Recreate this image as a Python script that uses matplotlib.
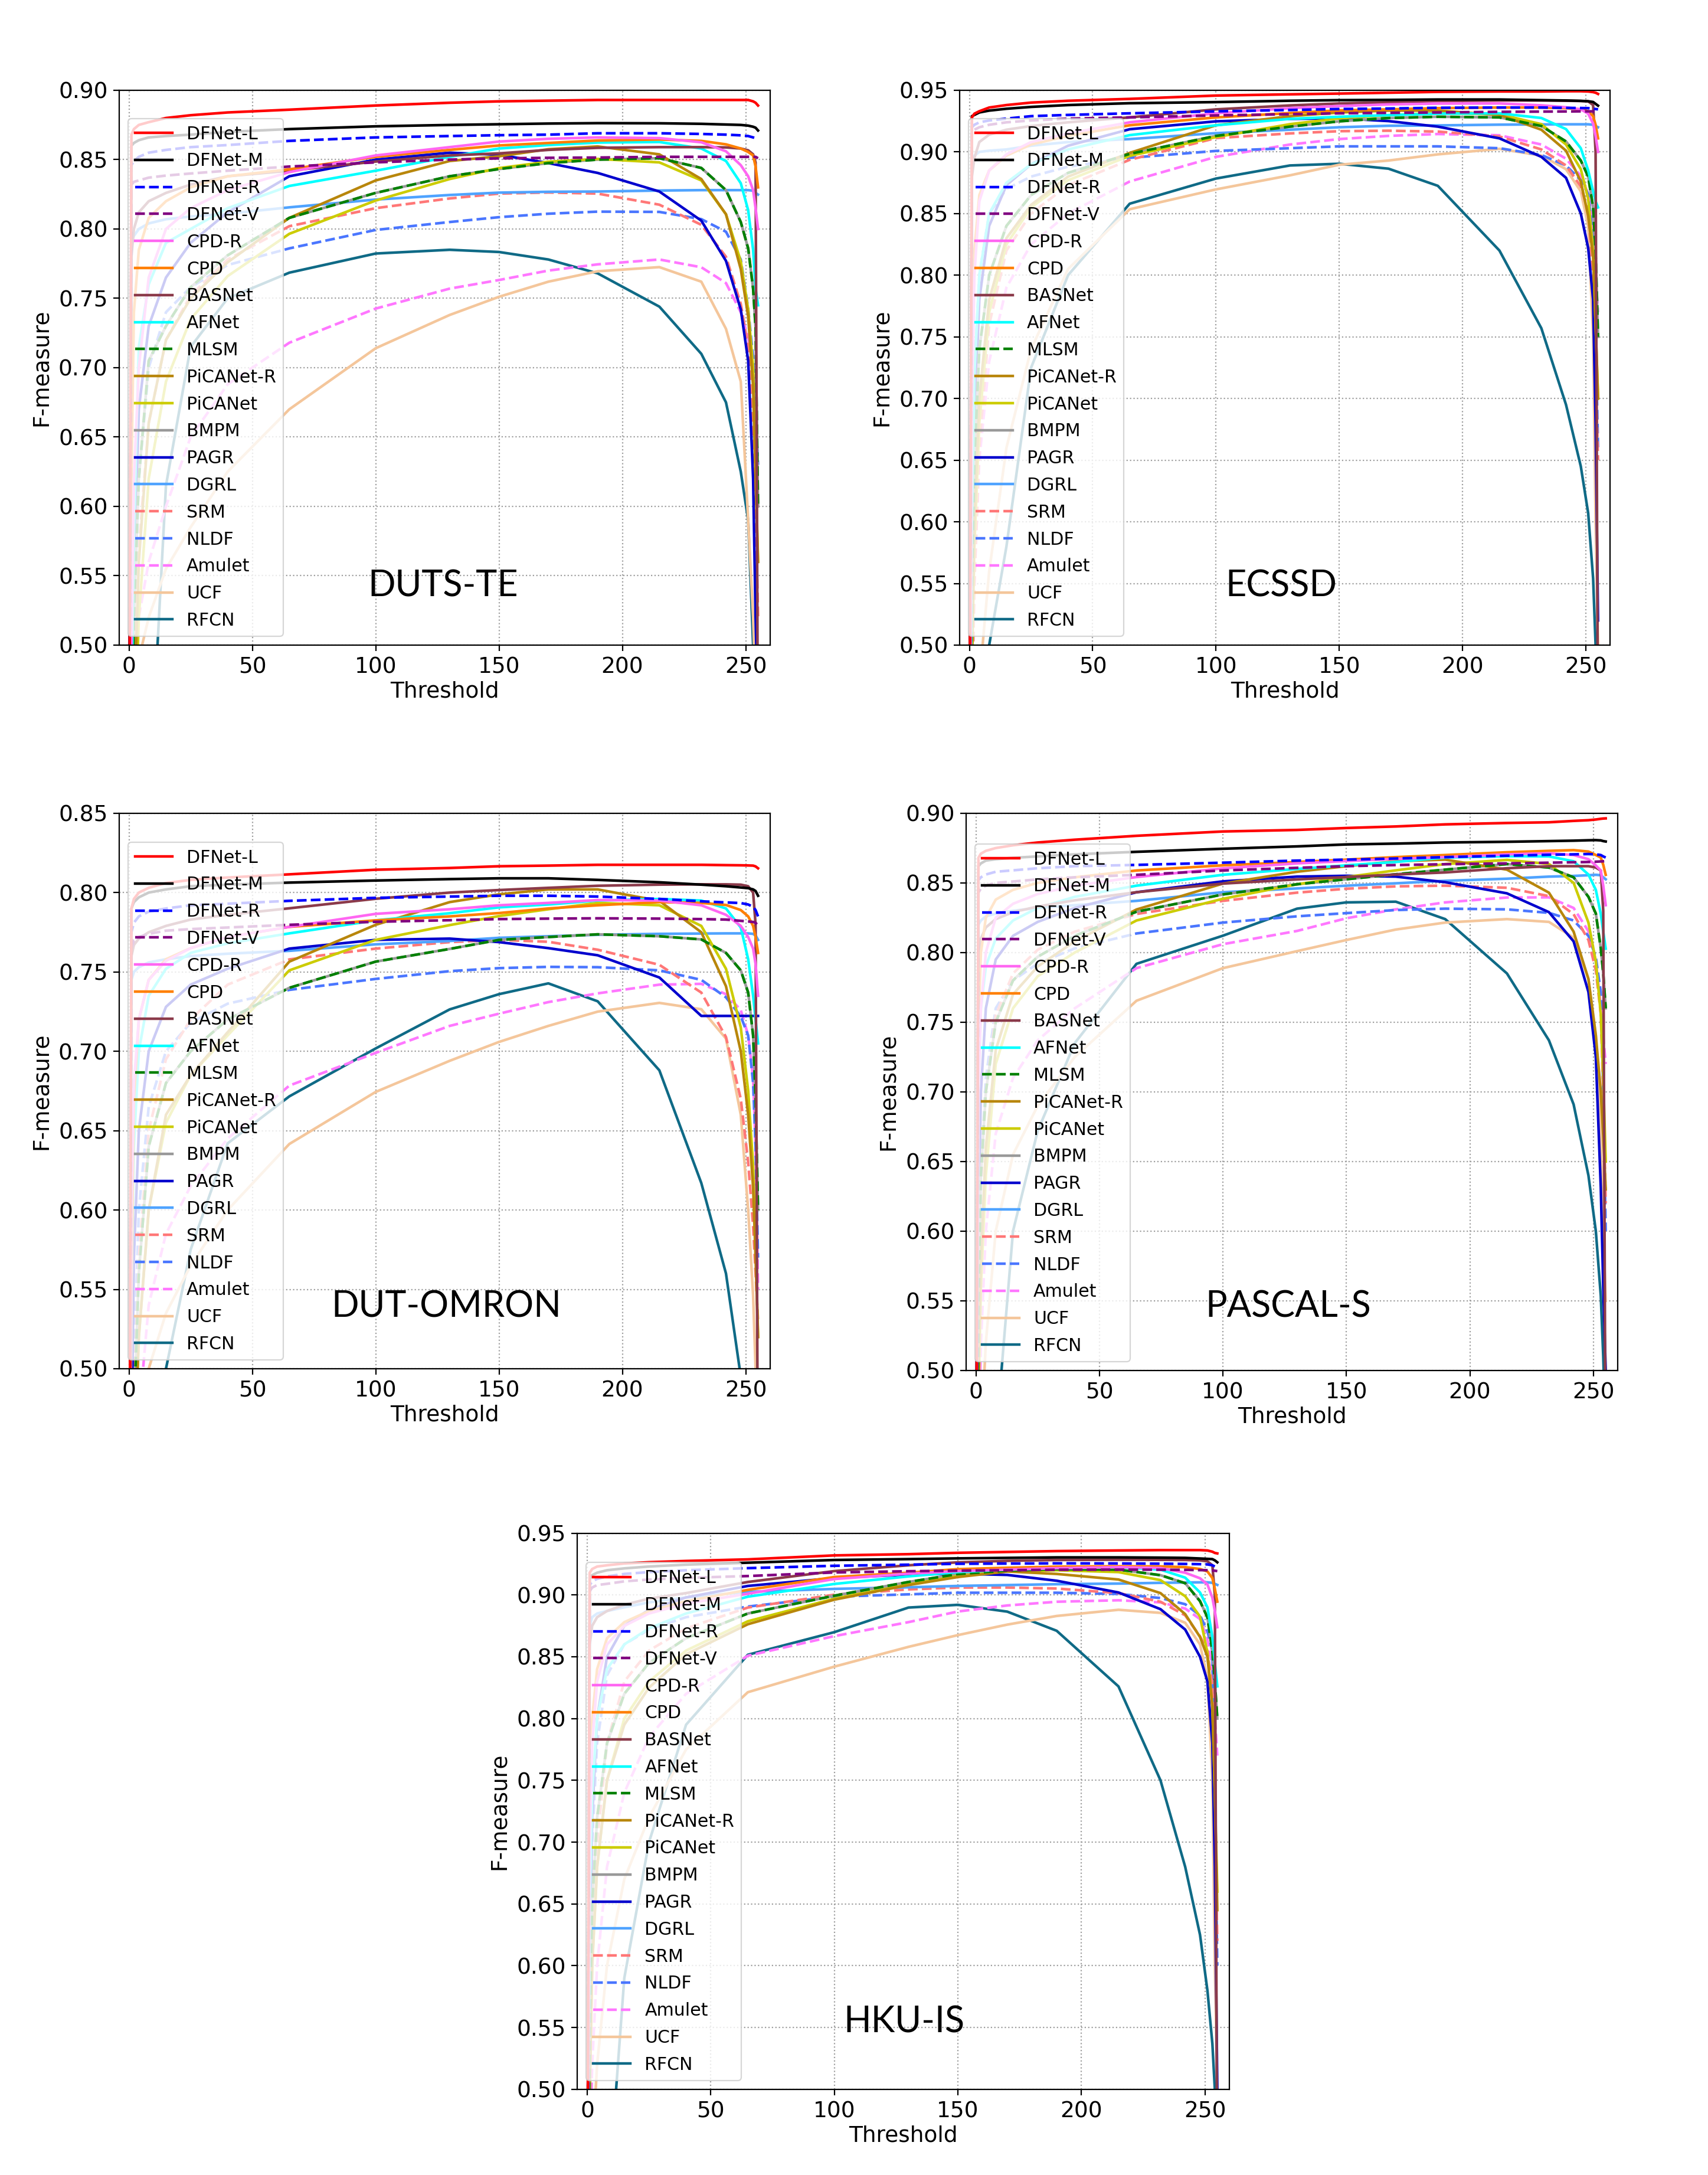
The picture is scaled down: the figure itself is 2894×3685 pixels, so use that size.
import matplotlib
matplotlib.use("Agg")
import matplotlib.pyplot as plt
from matplotlib.ticker import FormatStrFormatter

# ---------------- data ----------------
THRESHOLDS = [0, 1, 2, 4, 8, 15, 25, 40, 65, 100, 130, 150, 170, 190, 215, 232, 242, 248, 251, 253, 254, 255]

METHODS = ["DFNet-L", "DFNet-M", "DFNet-R", "DFNet-V", "CPD-R", "CPD", "BASNet", "AFNet", "MLSM",
           "PiCANet-R", "PiCANet", "BMPM", "PAGR", "DGRL", "SRM", "NLDF", "Amulet", "UCF", "RFCN"]

DATASETS = ["DUTS-TE", "ECSSD", "DUT-OMRON", "PASCAL-S", "HKU-IS"]

duts_te = [
    [0.35, 0.868, 0.872, 0.875, 0.877, 0.880, 0.882, 0.884, 0.886, 0.889, 0.891, 0.892, 0.8925, 0.893, 0.893, 0.893, 0.893, 0.893, 0.893, 0.892, 0.891, 0.889],
    [0.35, 0.860, 0.862, 0.864, 0.866, 0.867, 0.868, 0.870, 0.872, 0.874, 0.875, 0.8755, 0.876, 0.8763, 0.8762, 0.8758, 0.8753, 0.875, 0.8745, 0.8737, 0.873, 0.871],
    [0.35, 0.846, 0.849, 0.852, 0.855, 0.857, 0.859, 0.8605, 0.8635, 0.866, 0.867, 0.8676, 0.868, 0.869, 0.869, 0.8685, 0.868, 0.8675, 0.867, 0.866, 0.8655, 0.865],
    [0.35, 0.832, 0.834, 0.835, 0.837, 0.8385, 0.840, 0.842, 0.845, 0.848, 0.850, 0.8509, 0.8513, 0.8515, 0.852, 0.852, 0.852, 0.852, 0.852, 0.852, 0.852, 0.851],
    [0.30, 0.50, 0.62, 0.70, 0.765, 0.80, 0.815, 0.828, 0.841, 0.853, 0.859, 0.863, 0.865, 0.866, 0.8655, 0.8625, 0.856, 0.846, 0.838, 0.828, 0.815, 0.80],
    [0.30, 0.62, 0.74, 0.785, 0.808, 0.82, 0.83, 0.838, 0.843, 0.852, 0.857, 0.8602, 0.862, 0.8638, 0.8645, 0.8635, 0.861, 0.858, 0.8555, 0.853, 0.845, 0.830],
    [0.30, 0.78, 0.80, 0.812, 0.82, 0.826, 0.832, 0.838, 0.842, 0.8486, 0.853, 0.8545, 0.857, 0.8585, 0.859, 0.859, 0.8588, 0.858, 0.8567, 0.8538, 0.848, 0.40],
    [0.30, 0.45, 0.58, 0.715, 0.76, 0.79, 0.80, 0.815, 0.831, 0.842, 0.852, 0.858, 0.8605, 0.8623, 0.8627, 0.858, 0.849, 0.833, 0.8135, 0.785, 0.757, 0.745],
    [0.30, 0.42, 0.52, 0.62, 0.705, 0.73, 0.758, 0.781, 0.808, 0.826, 0.838, 0.8432, 0.8475, 0.850, 0.851, 0.844, 0.828, 0.805, 0.786, 0.757, 0.7285, 0.60],
    [0.30, 0.38, 0.45, 0.56, 0.66, 0.72, 0.75, 0.776, 0.808, 0.835, 0.849, 0.8524, 0.8575, 0.8595, 0.8538, 0.836, 0.8106, 0.771, 0.737, 0.686, 0.62, 0.56],
    [0.30, 0.36, 0.42, 0.52, 0.62, 0.69, 0.735, 0.766, 0.7965, 0.8205, 0.836, 0.8439, 0.8485, 0.8505, 0.848, 0.835, 0.8106, 0.7766, 0.742, 0.70, 0.63, 0.56],
    [0.30, 0.42, 0.52, 0.62, 0.705, 0.73, 0.758, 0.781, 0.808, 0.826, 0.838, 0.8432, 0.8475, 0.850, 0.851, 0.844, 0.828, 0.805, 0.786, 0.757, 0.7285, 0.60],
    [0.30, 0.45, 0.55, 0.67, 0.73, 0.765, 0.79, 0.812, 0.838, 0.850, 0.855, 0.8535, 0.8475, 0.8404, 0.827, 0.806, 0.777, 0.742, 0.705, 0.62, 0.52, 0.45],
    [0.30, 0.79, 0.795, 0.80, 0.804, 0.807, 0.809, 0.811, 0.8156, 0.8212, 0.8245, 0.8262, 0.8268, 0.827, 0.8277, 0.828, 0.828, 0.828, 0.828, 0.8276, 0.826, 0.8248],
    [0.30, 0.40, 0.48, 0.57, 0.66, 0.72, 0.752, 0.778, 0.802, 0.815, 0.822, 0.8255, 0.8263, 0.8255, 0.8175, 0.803, 0.78, 0.746, 0.715, 0.66, 0.60, 0.52],
    [0.30, 0.42, 0.52, 0.62, 0.70, 0.74, 0.758, 0.774, 0.786, 0.7993, 0.805, 0.8085, 0.811, 0.8125, 0.8123, 0.8071, 0.798, 0.778, 0.7426, 0.7072, 0.67, 0.63],
    [0.30, 0.40, 0.46, 0.52, 0.56, 0.60, 0.65, 0.688, 0.718, 0.7426, 0.757, 0.7632, 0.770, 0.7745, 0.778, 0.7724, 0.761, 0.74, 0.7214, 0.70, 0.66, 0.60],
    [0.30, 0.40, 0.45, 0.49, 0.52, 0.555, 0.585, 0.625, 0.67, 0.714, 0.738, 0.7511, 0.762, 0.7695, 0.7725, 0.762, 0.728, 0.69, 0.59, 0.52, 0.47, 0.45],
    [0.20, 0.20, 0.20, 0.25, 0.38, 0.615, 0.715, 0.75, 0.7685, 0.7823, 0.785, 0.7834, 0.778, 0.768, 0.744, 0.71, 0.675, 0.625, 0.59, 0.50, 0.40, 0.35],
]

ecssd = [
    [0.40, 0.928, 0.931, 0.933, 0.936, 0.938, 0.940, 0.9415, 0.943, 0.9457, 0.9467, 0.9473, 0.948, 0.9487, 0.949, 0.949, 0.9492, 0.9492, 0.949, 0.9485, 0.948, 0.947],
    [0.40, 0.929, 0.930, 0.932, 0.9335, 0.935, 0.9365, 0.938, 0.9395, 0.9404, 0.9415, 0.942, 0.9422, 0.9425, 0.9425, 0.942, 0.9417, 0.9414, 0.9411, 0.9405, 0.939, 0.9375],
    [0.40, 0.920, 0.922, 0.924, 0.9255, 0.927, 0.929, 0.930, 0.9313, 0.9329, 0.934, 0.9348, 0.9352, 0.9358, 0.936, 0.936, 0.9357, 0.9356, 0.9355, 0.935, 0.9348, 0.9345],
    [0.40, 0.915, 0.918, 0.920, 0.922, 0.924, 0.9255, 0.927, 0.928, 0.9296, 0.9306, 0.9313, 0.9317, 0.932, 0.9325, 0.9327, 0.9328, 0.9329, 0.9329, 0.9329, 0.9329, 0.9325],
    [0.30, 0.70, 0.80, 0.86, 0.885, 0.898, 0.908, 0.915, 0.924, 0.9313, 0.9355, 0.9372, 0.9385, 0.9392, 0.9393, 0.9378, 0.9362, 0.9345, 0.931, 0.923, 0.913, 0.90],
    [0.30, 0.72, 0.82, 0.865, 0.885, 0.897, 0.906, 0.913, 0.9216, 0.928, 0.9315, 0.9337, 0.9345, 0.9355, 0.936, 0.936, 0.9355, 0.9345, 0.933, 0.929, 0.922, 0.911],
    [0.30, 0.88, 0.895, 0.908, 0.914, 0.918, 0.921, 0.924, 0.928, 0.9345, 0.9377, 0.9393, 0.9403, 0.9413, 0.9417, 0.9417, 0.9415, 0.9413, 0.941, 0.938, 0.90, 0.40],
    [0.30, 0.60, 0.72, 0.80, 0.85, 0.875, 0.89, 0.902, 0.9136, 0.9216, 0.9268, 0.9285, 0.9298, 0.931, 0.9313, 0.9275, 0.9185, 0.903, 0.885, 0.868, 0.86, 0.855],
    [0.30, 0.55, 0.65, 0.74, 0.80, 0.84, 0.865, 0.883, 0.8984, 0.913, 0.9205, 0.9248, 0.9275, 0.9285, 0.928, 0.921, 0.9085, 0.893, 0.88, 0.855, 0.82, 0.75],
    [0.30, 0.50, 0.60, 0.70, 0.78, 0.83, 0.857, 0.88, 0.8992, 0.9216, 0.929, 0.932, 0.9335, 0.9335, 0.930, 0.918, 0.901, 0.876, 0.848, 0.815, 0.76, 0.70],
    [0.30, 0.48, 0.58, 0.68, 0.77, 0.825, 0.855, 0.877, 0.8968, 0.912, 0.9225, 0.9272, 0.9298, 0.9315, 0.9305, 0.9225, 0.906, 0.886, 0.862, 0.82, 0.76, 0.70],
    [0.30, 0.55, 0.65, 0.74, 0.80, 0.84, 0.865, 0.883, 0.8984, 0.913, 0.9205, 0.9248, 0.9275, 0.9285, 0.928, 0.921, 0.9085, 0.893, 0.88, 0.855, 0.82, 0.75],
    [0.30, 0.55, 0.68, 0.78, 0.84, 0.873, 0.89, 0.905, 0.9184, 0.9248, 0.9268, 0.9272, 0.925, 0.9205, 0.911, 0.896, 0.879, 0.85, 0.822, 0.78, 0.68, 0.52],
    [0.30, 0.89, 0.897, 0.90, 0.901, 0.902, 0.905, 0.908, 0.9104, 0.9152, 0.918, 0.92, 0.9212, 0.9215, 0.9221, 0.9223, 0.9224, 0.9224, 0.9224, 0.922, 0.921, 0.92],
    [0.30, 0.45, 0.55, 0.66, 0.76, 0.82, 0.85, 0.873, 0.8936, 0.9112, 0.915, 0.9168, 0.9172, 0.9165, 0.9125, 0.902, 0.889, 0.872, 0.852, 0.80, 0.72, 0.65],
    [0.30, 0.60, 0.72, 0.80, 0.85, 0.87, 0.88, 0.888, 0.8952, 0.9008, 0.903, 0.9045, 0.9045, 0.9045, 0.903, 0.8975, 0.889, 0.877, 0.866, 0.83, 0.75, 0.66],
    [0.30, 0.45, 0.55, 0.65, 0.73, 0.79, 0.825, 0.85, 0.876, 0.896, 0.906, 0.9104, 0.913, 0.9145, 0.9135, 0.906, 0.8945, 0.8805, 0.866, 0.84, 0.80, 0.77],
    [0.30, 0.35, 0.40, 0.47, 0.56, 0.66, 0.74, 0.805, 0.8535, 0.8696, 0.881, 0.8896, 0.893, 0.898, 0.9025, 0.897, 0.886, 0.868, 0.84, 0.75, 0.60, 0.50],
    [0.20, 0.20, 0.20, 0.25, 0.50, 0.58, 0.725, 0.80, 0.858, 0.8784, 0.889, 0.8904, 0.8864, 0.8725, 0.82, 0.757, 0.695, 0.645, 0.607, 0.554, 0.50, 0.45],
]

dut_omron = [
    [0.30, 0.79, 0.796, 0.80, 0.803, 0.806, 0.808, 0.8095, 0.8115, 0.8144, 0.8155, 0.8166, 0.817, 0.8175, 0.8175, 0.8175, 0.8173, 0.8172, 0.8171, 0.817, 0.8165, 0.8153],
    [0.30, 0.79, 0.794, 0.797, 0.80, 0.802, 0.804, 0.805, 0.8063, 0.8076, 0.8085, 0.809, 0.809, 0.808, 0.8065, 0.805, 0.804, 0.8032, 0.8028, 0.802, 0.801, 0.798],
    [0.30, 0.775, 0.781, 0.785, 0.788, 0.79, 0.792, 0.793, 0.7948, 0.7967, 0.7975, 0.798, 0.798, 0.7975, 0.796, 0.7945, 0.7938, 0.7934, 0.7925, 0.791, 0.789, 0.785],
    [0.30, 0.765, 0.77, 0.772, 0.774, 0.776, 0.777, 0.778, 0.7797, 0.7816, 0.7826, 0.7833, 0.7836, 0.7838, 0.7836, 0.7833, 0.783, 0.7822, 0.7818, 0.7815, 0.781, 0.779],
    [0.30, 0.60, 0.68, 0.72, 0.745, 0.757, 0.765, 0.772, 0.7784, 0.7866, 0.7895, 0.792, 0.7935, 0.7953, 0.795, 0.792, 0.786, 0.779, 0.772, 0.7647, 0.755, 0.735],
    [0.30, 0.55, 0.67, 0.72, 0.745, 0.758, 0.765, 0.772, 0.7784, 0.7825, 0.785, 0.7871, 0.790, 0.792, 0.794, 0.7935, 0.7922, 0.789, 0.785, 0.779, 0.772, 0.762],
    [0.30, 0.76, 0.767, 0.771, 0.775, 0.779, 0.783, 0.786, 0.7901, 0.7961, 0.800, 0.8016, 0.803, 0.8043, 0.805, 0.8052, 0.8052, 0.805, 0.804, 0.800, 0.78, 0.40],
    [0.30, 0.55, 0.64, 0.70, 0.735, 0.752, 0.762, 0.768, 0.7743, 0.7825, 0.787, 0.7907, 0.7925, 0.795, 0.796, 0.795, 0.79, 0.778, 0.758, 0.735, 0.72, 0.705],
    [0.30, 0.40, 0.47, 0.56, 0.64, 0.68, 0.70, 0.72, 0.74, 0.7565, 0.7645, 0.7702, 0.772, 0.7737, 0.7725, 0.7705, 0.762, 0.751, 0.737, 0.71, 0.67, 0.60],
    [0.30, 0.38, 0.44, 0.52, 0.60, 0.66, 0.685, 0.712, 0.7565, 0.7797, 0.794, 0.7989, 0.802, 0.802, 0.7948, 0.775, 0.741, 0.70, 0.66, 0.614, 0.57, 0.52],
    [0.30, 0.38, 0.44, 0.52, 0.60, 0.655, 0.685, 0.71, 0.751, 0.7702, 0.7795, 0.7852, 0.7895, 0.7935, 0.792, 0.779, 0.752, 0.715, 0.675, 0.628, 0.58, 0.52],
    [0.30, 0.40, 0.47, 0.56, 0.64, 0.68, 0.70, 0.72, 0.74, 0.7565, 0.7645, 0.7702, 0.772, 0.7737, 0.7725, 0.7705, 0.762, 0.751, 0.737, 0.71, 0.67, 0.60],
    [0.30, 0.45, 0.57, 0.65, 0.70, 0.728, 0.742, 0.752, 0.7647, 0.7702, 0.771, 0.7688, 0.765, 0.7605, 0.7465, 0.7223, 0.7223, 0.7223, 0.7223, 0.7223, 0.7223, 0.7223],
    [0.30, 0.745, 0.75, 0.753, 0.756, 0.758, 0.76, 0.7615, 0.7633, 0.7674, 0.7695, 0.7715, 0.7725, 0.7734, 0.774, 0.7742, 0.7743, 0.7743, 0.7743, 0.774, 0.773, 0.7702],
    [0.30, 0.40, 0.48, 0.57, 0.65, 0.695, 0.72, 0.742, 0.7579, 0.7647, 0.7688, 0.7702, 0.769, 0.764, 0.7545, 0.737, 0.709, 0.67, 0.63, 0.59, 0.56, 0.53],
    [0.30, 0.40, 0.50, 0.60, 0.665, 0.70, 0.718, 0.73, 0.7387, 0.7456, 0.7505, 0.7524, 0.7532, 0.753, 0.751, 0.745, 0.734, 0.722, 0.71, 0.68, 0.64, 0.57],
    [0.30, 0.35, 0.40, 0.47, 0.54, 0.585, 0.615, 0.645, 0.6784, 0.699, 0.716, 0.7237, 0.731, 0.7365, 0.742, 0.7425, 0.736, 0.726, 0.71, 0.683, 0.64, 0.55],
    [0.30, 0.30, 0.35, 0.42, 0.50, 0.535, 0.565, 0.60, 0.6416, 0.6744, 0.694, 0.7059, 0.716, 0.725, 0.7305, 0.7265, 0.708, 0.66, 0.60, 0.546, 0.50, 0.45],
    [0.20, 0.20, 0.20, 0.20, 0.30, 0.50, 0.575, 0.642, 0.6716, 0.7018, 0.7264, 0.736, 0.7428, 0.7315, 0.688, 0.617, 0.56, 0.495, 0.45, 0.40, 0.38, 0.35],
]

pascal_s = [
    [0.35, 0.868, 0.871, 0.873, 0.875, 0.877, 0.879, 0.881, 0.8838, 0.8869, 0.888, 0.8894, 0.8905, 0.892, 0.893, 0.8935, 0.8945, 0.895, 0.8955, 0.896, 0.8962, 0.8963],
    [0.35, 0.862, 0.864, 0.866, 0.867, 0.868, 0.869, 0.8705, 0.8723, 0.8745, 0.8762, 0.8776, 0.8782, 0.879, 0.8795, 0.88, 0.8803, 0.8806, 0.8807, 0.8805, 0.880, 0.8797],
    [0.35, 0.852, 0.854, 0.856, 0.858, 0.859, 0.8605, 0.862, 0.8629, 0.8645, 0.866, 0.8667, 0.8675, 0.8685, 0.8695, 0.8702, 0.8705, 0.8707, 0.8705, 0.870, 0.869, 0.8682],
    [0.35, 0.843, 0.846, 0.848, 0.850, 0.851, 0.8525, 0.854, 0.8558, 0.8589, 0.8608, 0.862, 0.8628, 0.8634, 0.864, 0.8645, 0.8648, 0.865, 0.8652, 0.8654, 0.8655, 0.8657],
    [0.30, 0.70, 0.76, 0.80, 0.825, 0.835, 0.842, 0.848, 0.8542, 0.8604, 0.864, 0.8657, 0.8672, 0.8685, 0.8705, 0.8713, 0.870, 0.867, 0.8625, 0.8589, 0.848, 0.834],
    [0.30, 0.75, 0.80, 0.825, 0.838, 0.845, 0.85, 0.854, 0.8589, 0.8626, 0.865, 0.8667, 0.8685, 0.870, 0.872, 0.873, 0.8735, 0.8725, 0.870, 0.8682, 0.863, 0.8558],
    [0.30, 0.80, 0.81, 0.818, 0.824, 0.829, 0.833, 0.8375, 0.8433, 0.8495, 0.8525, 0.8542, 0.856, 0.8575, 0.8605, 0.862, 0.862, 0.862, 0.861, 0.8589, 0.83, 0.40],
    [0.30, 0.70, 0.76, 0.79, 0.81, 0.823, 0.832, 0.84, 0.848, 0.8558, 0.860, 0.8626, 0.865, 0.8682, 0.8692, 0.869, 0.8655, 0.856, 0.845, 0.8277, 0.815, 0.8028],
    [0.30, 0.55, 0.64, 0.70, 0.75, 0.78, 0.797, 0.812, 0.8293, 0.8417, 0.849, 0.8526, 0.8562, 0.8595, 0.8635, 0.861, 0.854, 0.84, 0.828, 0.803, 0.785, 0.76],
    [0.30, 0.50, 0.58, 0.66, 0.73, 0.77, 0.79, 0.808, 0.8309, 0.8495, 0.858, 0.862, 0.8655, 0.8667, 0.8595, 0.843, 0.815, 0.781, 0.7405, 0.70, 0.668, 0.63],
    [0.30, 0.48, 0.56, 0.64, 0.72, 0.76, 0.783, 0.80, 0.823, 0.8386, 0.849, 0.8542, 0.859, 0.8635, 0.8665, 0.8636, 0.85, 0.8215, 0.7935, 0.756, 0.71, 0.65],
    [0.30, 0.55, 0.64, 0.70, 0.75, 0.78, 0.797, 0.812, 0.8293, 0.8417, 0.849, 0.8526, 0.8562, 0.8595, 0.8635, 0.861, 0.854, 0.84, 0.828, 0.803, 0.785, 0.76],
    [0.30, 0.60, 0.70, 0.76, 0.795, 0.812, 0.822, 0.832, 0.8433, 0.8511, 0.8545, 0.8551, 0.8545, 0.8505, 0.8425, 0.829, 0.808, 0.7717, 0.725, 0.6315, 0.56, 0.50],
    [0.30, 0.82, 0.823, 0.826, 0.828, 0.83, 0.832, 0.834, 0.8371, 0.8433, 0.846, 0.848, 0.8497, 0.8515, 0.853, 0.8545, 0.855, 0.8555, 0.8558, 0.8555, 0.854, 0.8526],
    [0.30, 0.55, 0.63, 0.70, 0.755, 0.785, 0.802, 0.815, 0.8277, 0.8371, 0.843, 0.8458, 0.8475, 0.848, 0.8465, 0.8405, 0.8275, 0.809, 0.7872, 0.756, 0.70, 0.62],
    [0.30, 0.55, 0.64, 0.71, 0.76, 0.78, 0.792, 0.803, 0.8137, 0.8215, 0.826, 0.8283, 0.8305, 0.8315, 0.831, 0.8285, 0.823, 0.812, 0.7966, 0.7717, 0.70, 0.60],
    [0.30, 0.45, 0.52, 0.60, 0.67, 0.71, 0.737, 0.76, 0.7888, 0.806, 0.8155, 0.8246, 0.831, 0.836, 0.8395, 0.8396, 0.832, 0.8153, 0.7935, 0.7623, 0.74, 0.72],
    [0.30, 0.40, 0.45, 0.52, 0.60, 0.655, 0.69, 0.725, 0.7654, 0.7888, 0.801, 0.809, 0.8165, 0.8215, 0.824, 0.822, 0.8107, 0.781, 0.7405, 0.67, 0.60, 0.55],
    [0.20, 0.20, 0.20, 0.25, 0.45, 0.60, 0.672, 0.735, 0.7919, 0.8121, 0.8315, 0.836, 0.8365, 0.824, 0.785, 0.737, 0.691, 0.64, 0.60, 0.5536, 0.51, 0.45],
]

hku_is = [
    [0.35, 0.918, 0.921, 0.923, 0.924, 0.9255, 0.9265, 0.9275, 0.9288, 0.932, 0.933, 0.9341, 0.9348, 0.9355, 0.936, 0.9363, 0.9363, 0.9363, 0.936, 0.935, 0.934, 0.9336],
    [0.35, 0.913, 0.916, 0.918, 0.92, 0.9215, 0.923, 0.9245, 0.9261, 0.9283, 0.929, 0.9296, 0.930, 0.9304, 0.9304, 0.9302, 0.930, 0.9295, 0.9292, 0.929, 0.928, 0.9264],
    [0.35, 0.908, 0.911, 0.913, 0.915, 0.917, 0.9185, 0.92, 0.9217, 0.9236, 0.9245, 0.9252, 0.9254, 0.9256, 0.9255, 0.9253, 0.9251, 0.9249, 0.9247, 0.924, 0.923, 0.9217],
    [0.35, 0.903, 0.906, 0.908, 0.909, 0.911, 0.9125, 0.9138, 0.9153, 0.9182, 0.9192, 0.9197, 0.920, 0.9204, 0.9205, 0.9204, 0.9203, 0.9201, 0.920, 0.9198, 0.9196, 0.9193],
    [0.30, 0.70, 0.78, 0.83, 0.86, 0.875, 0.885, 0.893, 0.901, 0.9129, 0.9172, 0.9193, 0.9205, 0.9217, 0.9225, 0.9218, 0.918, 0.9135, 0.9085, 0.8978, 0.887, 0.8739],
    [0.30, 0.74, 0.80, 0.84, 0.865, 0.878, 0.887, 0.895, 0.9041, 0.9145, 0.918, 0.9209, 0.922, 0.9229, 0.9232, 0.9231, 0.9225, 0.921, 0.919, 0.9137, 0.905, 0.8946],
    [0.30, 0.86, 0.875, 0.882, 0.887, 0.892, 0.897, 0.9015, 0.9105, 0.9193, 0.924, 0.9264, 0.9276, 0.9283, 0.9285, 0.9284, 0.9283, 0.928, 0.9272, 0.924, 0.90, 0.40],
    [0.30, 0.65, 0.74, 0.80, 0.84, 0.86, 0.873, 0.885, 0.8986, 0.9089, 0.915, 0.9185, 0.9205, 0.9217, 0.9225, 0.9205, 0.914, 0.902, 0.89, 0.8659, 0.845, 0.8261],
    [0.30, 0.55, 0.65, 0.72, 0.78, 0.82, 0.845, 0.865, 0.885, 0.8994, 0.9105, 0.9169, 0.9197, 0.9209, 0.9205, 0.916, 0.9095, 0.895, 0.8818, 0.8548, 0.83, 0.80],
    [0.30, 0.50, 0.60, 0.68, 0.75, 0.795, 0.825, 0.852, 0.8763, 0.8962, 0.908, 0.9145, 0.919, 0.917, 0.9125, 0.9015, 0.8845, 0.866, 0.85, 0.81, 0.74, 0.645],
    [0.30, 0.50, 0.60, 0.68, 0.75, 0.80, 0.83, 0.855, 0.8787, 0.897, 0.9085, 0.9153, 0.919, 0.920, 0.9185, 0.912, 0.899, 0.8825, 0.8532, 0.81, 0.74, 0.66],
    [0.30, 0.55, 0.65, 0.72, 0.78, 0.82, 0.845, 0.865, 0.885, 0.8994, 0.9105, 0.9169, 0.9197, 0.9209, 0.9205, 0.916, 0.9095, 0.895, 0.8818, 0.8548, 0.83, 0.80],
    [0.30, 0.60, 0.72, 0.80, 0.85, 0.875, 0.888, 0.898, 0.9073, 0.9137, 0.9165, 0.9172, 0.9162, 0.9115, 0.902, 0.8885, 0.872, 0.85, 0.83, 0.78, 0.68, 0.50],
    [0.30, 0.875, 0.882, 0.885, 0.887, 0.89, 0.894, 0.898, 0.9025, 0.9049, 0.9062, 0.9073, 0.908, 0.9087, 0.9092, 0.9098, 0.9101, 0.9102, 0.9102, 0.9098, 0.909, 0.9081],
    [0.30, 0.50, 0.60, 0.70, 0.78, 0.83, 0.855, 0.873, 0.8898, 0.9002, 0.9045, 0.906, 0.906, 0.9052, 0.9015, 0.8945, 0.8835, 0.8665, 0.8548, 0.8261, 0.72, 0.62],
    [0.30, 0.60, 0.70, 0.78, 0.835, 0.86, 0.872, 0.882, 0.8906, 0.8986, 0.9005, 0.9018, 0.9018, 0.9018, 0.9008, 0.8975, 0.8925, 0.8835, 0.8707, 0.8548, 0.73, 0.60],
    [0.30, 0.45, 0.52, 0.60, 0.68, 0.74, 0.785, 0.82, 0.8508, 0.8667, 0.878, 0.8866, 0.8915, 0.8945, 0.8957, 0.894, 0.889, 0.8805, 0.8643, 0.842, 0.80, 0.77],
    [0.30, 0.40, 0.45, 0.52, 0.60, 0.67, 0.72, 0.775, 0.8213, 0.842, 0.858, 0.8675, 0.876, 0.883, 0.888, 0.8855, 0.8775, 0.86, 0.8325, 0.75, 0.60, 0.50],
    [0.20, 0.20, 0.20, 0.25, 0.40, 0.59, 0.70, 0.795, 0.8516, 0.8699, 0.8898, 0.892, 0.8865, 0.871, 0.826, 0.75, 0.68, 0.625, 0.58, 0.537, 0.50, 0.45],
]

Y_LIMITS = [(0.50, 0.90), (0.50, 0.95), (0.50, 0.85), (0.50, 0.90), (0.50, 0.95)]
X_TICKS = [0, 50, 100, 150, 200, 250]

# ---------------- styles ----------------
COLORS = ["#FF0000", "#000000", "#0000FF", "#800080", "#FF66F2", "#FF7F00", "#8B3A4A", "#00FFFF",
          "#008000", "#B8860B", "#CCCC00", "#999999", "#0000CD", "#4FA3FF", "#FF7777", "#4A76FF",
          "#FF77FF", "#F4C69B", "#0F6A86"]
STYLES = ["-", "-", "--", "--", "-", "-", "-", "-", "--", "-", "-", "-", "-", "-", "--", "--",
          "--", "-", "-"]

# axes rectangles in figure fractions (left, bottom, width, height)
RECTS = [
    (0.0698, 0.7034, 0.3811, 0.2551),
    (0.5619, 0.7034, 0.3808, 0.2551),
    (0.0698, 0.3707, 0.3811, 0.2554),
    (0.5657, 0.3699, 0.3815, 0.2562),
    (0.3381, 0.0394, 0.3817, 0.2557),
]
LABEL_POS = [(0.2595, 0.7305), (0.7502, 0.7305), (0.2612, 0.3992), (0.7543, 0.3992), (0.5294, 0.0703)]

ALL_DATA = [duts_te, ecssd, dut_omron, pascal_s, hku_is]

fig = plt.figure(figsize=(28.94, 36.85), dpi=100)

LW = 3.2
for k, (rect, data, ylim) in enumerate(zip(RECTS, ALL_DATA, Y_LIMITS)):
    ax = fig.add_axes(rect)
    handles = [None] * len(METHODS)
    n = len(METHODS)
    for i in reversed(range(n)):
        (ln,) = ax.plot(THRESHOLDS, data[i], color=COLORS[i], linestyle=STYLES[i],
                        linewidth=LW, label=METHODS[i], zorder=2 + (n - i) * 0.01)
        handles[i] = ln
    ax.set_xlim(-3.95, 259.9)
    ax.set_ylim(*ylim)
    ax.set_xticks(X_TICKS)
    yt = [round(ylim[0] + 0.05 * j, 2) for j in range(int(round((ylim[1] - ylim[0]) / 0.05)) + 1)]
    ax.set_yticks(yt)
    ax.yaxis.set_major_formatter(FormatStrFormatter("%.2f"))
    ax.grid(True, linestyle=":", linewidth=1.6, color="#a0a0a0")
    ax.set_axisbelow(True)
    ax.tick_params(axis="both", direction="out", length=7, width=1.6, pad=7, labelsize=27)
    for sp in ax.spines.values():
        sp.set_linewidth(1.6)
    ax.set_xlabel("Threshold", fontsize=27, labelpad=4)
    ax.set_ylabel("F-measure", fontsize=27, labelpad=8)
    leg = ax.legend(handles=handles, labels=METHODS, loc="lower left", fontsize=21.6,
                    labelspacing=0.56, handlelength=2.1, handletextpad=0.8,
                    borderpad=0.4, borderaxespad=0.5, framealpha=0.8)
    leg.get_frame().set_linewidth(1.6)
    fig.text(LABEL_POS[k][0], LABEL_POS[k][1], DATASETS[k], fontsize=44,
             family=["Lato", "DejaVu Sans"], ha="center", va="center")

fig.savefig("out.png", dpi=100)
